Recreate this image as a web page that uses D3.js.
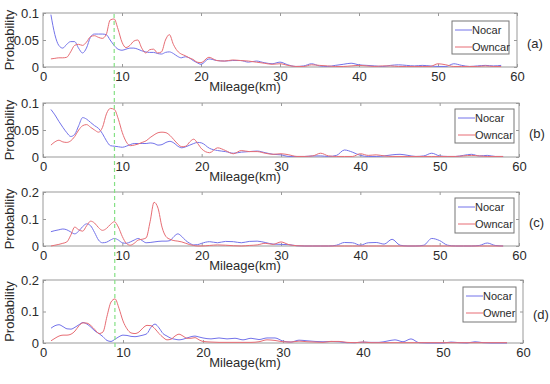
<!DOCTYPE html>
<html>
<head>
<meta charset="utf-8">
<script src="https://cdn.jsdelivr.net/npm/d3@7"></script>
<style>
  html, body { margin: 0; padding: 0; background: #fff; }
  svg { display: block; font-family: "Liberation Sans", Arial, sans-serif; }
</style>
</head>
<body>
<div id="chart"></div>
<script>
// mileage grid (km): half-km steps up to 20, then whole km
const mileage = [1, 1.5, 2, 2.5, 3, 3.5, 4, 4.5, 5, 5.5, 6, 6.5, 7, 7.5, 8, 8.5, 9, 9.5, 10,
  10.5, 11, 11.5, 12, 12.5, 13, 13.5, 14, 14.5, 15, 15.5, 16, 16.5, 17, 17.5, 18, 18.5, 19, 19.5, 20,
  21, 22, 23, 24, 25, 26, 27, 28, 29, 30, 31, 32, 33, 34, 35, 36, 37, 38, 39, 40,
  41, 42, 43, 44, 45, 46, 47, 48, 49, 50, 51, 52, 53, 54, 55, 56, 57, 58];

const nocarA = [0.097, 0.06, 0.04, 0.035, 0.042, 0.047, 0.047, 0.035, 0.026,
  0.035, 0.055, 0.061, 0.061, 0.061, 0.06, 0.05, 0.04, 0.033, 0.031,
  0.033, 0.035, 0.035, 0.033, 0.03, 0.028, 0.027, 0.027, 0.025, 0.024,
  0.027, 0.028, 0.025, 0.02, 0.017, 0.019, 0.017, 0.012, 0.008, 0.005,
  0.015, 0.012, 0.011, 0.012, 0.012, 0.009, 0.011, 0.008, 0.006, 0.009,
  0.004, 0.001, 0.002, 0.006, 0.002, 0.001, 0.003, 0.005, 0.007, 0.004,
  0.003, 0.002, 0.001, 0.003, 0.004, 0.003, 0.002, 0.003, 0.002, 0.001,
  0.001, 0.006, 0.003, 0.001, 0.002, 0.003, 0.002, 0.003];
const owncarA = [0.015, 0.016, 0.017, 0.017, 0.018, 0.028, 0.04, 0.042, 0.04,
  0.046, 0.056, 0.058, 0.055, 0.053, 0.06, 0.087, 0.089, 0.07, 0.046,
  0.036, 0.04, 0.048, 0.05, 0.035, 0.026, 0.032, 0.033, 0.026, 0.028,
  0.05, 0.06, 0.042, 0.03, 0.024, 0.021, 0.017, 0.014, 0.009, 0.008,
  0.018, 0.012, 0.011, 0.013, 0.012, 0.011, 0.009, 0.007, 0.005, 0.006,
  0.003, 0.001, 0.001, 0.004, 0.003, 0.002, 0.001, 0.001, 0.002, 0.003,
  0.002, 0.001, 0.002, 0.002, 0.001, 0.001, 0.001, 0.001, 0.001, 0.006,
  0.004, 0.001, 0.001, 0.001, 0.001, 0.002, 0.001, 0.001];

const nocarB = [0.088, 0.078, 0.066, 0.055, 0.045, 0.038, 0.042, 0.058, 0.073,
  0.07, 0.064, 0.058, 0.053, 0.043, 0.03, 0.021, 0.02, 0.019, 0.018,
  0.02, 0.023, 0.025, 0.025, 0.025, 0.025, 0.026, 0.025, 0.022, 0.023,
  0.027, 0.029, 0.026, 0.02, 0.017, 0.019, 0.022, 0.025, 0.027, 0.026,
  0.016, 0.012, 0.01, 0.007, 0.009, 0.01, 0.011, 0.008, 0.005, 0.004,
  0.001, 0.001, 0.001, 0.002, 0.002, 0.001, 0.003, 0.013, 0.009, 0.003,
  0.001, 0.001, 0.002, 0.004, 0.005, 0.003, 0.001, 0.002, 0.007, 0.002,
  0.001, 0.001, 0.003, 0.005, 0.002, 0.003, 0.001, 0.001];
const owncarB = [0.022, 0.028, 0.031, 0.028, 0.027, 0.03, 0.038, 0.05, 0.058,
  0.06, 0.055, 0.05, 0.046, 0.055, 0.08, 0.09, 0.088, 0.07, 0.045,
  0.028, 0.021, 0.022, 0.024, 0.027, 0.03, 0.036, 0.041, 0.045, 0.046,
  0.045, 0.04, 0.032, 0.024, 0.019, 0.02, 0.028, 0.033, 0.025, 0.015,
  0.008, 0.017, 0.012, 0.006, 0.012, 0.01, 0.01, 0.007, 0.005, 0.006,
  0.004, 0.001, 0.001, 0.002, 0.007, 0.002, 0.001, 0.001, 0.001, 0.006,
  0.003, 0.004, 0.002, 0.001, 0.001, 0.001, 0.001, 0.001, 0.001, 0.001,
  0.001, 0.001, 0.002, 0.003, 0.002, 0.001, 0.001, 0.001];

const nocarC = [0.053, 0.057, 0.06, 0.063, 0.06, 0.052, 0.045, 0.055, 0.072,
  0.082, 0.075, 0.05, 0.022, 0.012, 0.014, 0.022, 0.028, 0.022, 0.012,
  0.01, 0.015, 0.022, 0.028, 0.02, 0.012, 0.013, 0.015, 0.017, 0.018,
  0.018, 0.02, 0.035, 0.045, 0.035, 0.02, 0.01, 0.004, 0.005, 0.01,
  0.016, 0.012, 0.017, 0.016, 0.012, 0.017, 0.018, 0.013, 0.007, 0.006,
  0.005, 0.001, 0, 0, 0, 0, 0.003, 0.013, 0.012, 0.003,
  0.012, 0.013, 0.007, 0.025, 0.003, 0, 0, 0.003, 0.028, 0.02,
  0.003, 0, 0, 0, 0.002, 0.011, 0.002, 0];
const owncarC = [0, 0.003, 0.006, 0.01, 0.015, 0.04, 0.07, 0.06, 0.055,
  0.075, 0.092, 0.085, 0.068, 0.058, 0.065, 0.08, 0.09, 0.07, 0.035,
  0.01, 0.003, 0.01, 0.022, 0.025, 0.03, 0.09, 0.162, 0.14, 0.07,
  0.035, 0.025, 0.02, 0.018, 0.015, 0.01, 0.005, 0.002, 0, 0,
  0.002, 0.004, 0.003, 0.001, 0, 0.002, 0.004, 0.01, 0.006, 0.015,
  0.005, 0.001, 0, 0, 0, 0, 0, 0, 0, 0,
  0, 0, 0, 0, 0, 0, 0, 0, 0, 0,
  0, 0, 0, 0, 0, 0, 0, 0];

const nocarD = [0.047, 0.055, 0.058, 0.052, 0.045, 0.044, 0.05, 0.058, 0.065,
  0.06, 0.05, 0.038, 0.03, 0.02, 0.008, 0.005, 0.012, 0.02, 0.025,
  0.024, 0.021, 0.02, 0.022, 0.025, 0.03, 0.05, 0.06, 0.048, 0.03,
  0.022, 0.015, 0.012, 0.01, 0.012, 0.016, 0.02, 0.022, 0.019, 0.016,
  0.013, 0.016, 0.013, 0.015, 0.01, 0.015, 0.011, 0.016, 0.016, 0.006,
  0.003, 0.009, 0.007, 0.005, 0.004, 0.005, 0.004, 0.001, 0.001, 0.003,
  0.002, 0.002, 0.006, 0.01, 0.004, 0.013, 0.001, 0, 0, 0,
  0.003, 0.001, 0, 0.004, 0.001, 0, 0, 0];
const ownerD = [0.007, 0.015, 0.022, 0.025, 0.025, 0.028, 0.038, 0.055, 0.064,
  0.063, 0.055, 0.042, 0.03, 0.035, 0.085, 0.13, 0.14, 0.11, 0.07,
  0.045, 0.032, 0.03, 0.035, 0.048, 0.056, 0.055, 0.045, 0.03, 0.018,
  0.01, 0.012, 0.022, 0.028, 0.022, 0.015, 0.015, 0.017, 0.01, 0.005,
  0.003, 0.002, 0.002, 0.002, 0.002, 0.002, 0.004, 0.01, 0.008, 0.004,
  0.003, 0.006, 0.004, 0.003, 0.002, 0.005, 0.005, 0.002, 0.001, 0.003,
  0.001, 0.001, 0.001, 0.001, 0.001, 0.001, 0.001, 0.001, 0.001, 0.001,
  0.001, 0.001, 0.001, 0.001, 0.001, 0.001, 0.001, 0.001];

const xTicks = [0, 10, 20, 30, 40, 50, 60];
const yTicksSmall = [0, 0.05, 0.1];
const yTicksLarge = [0, 0.1, 0.2];
const splitKm = 9;

const panels = [
  {tag: "(a)", blue: nocarA, red: owncarA, names: ["Nocar", "Owncar"], yMax: 0.1, yTicks: yTicksSmall,
   left: 43, right: 517, top: 13, bottom: 67, legend: [452, 21, 57, 33]},
  {tag: "(b)", blue: nocarB, red: owncarB, names: ["Nocar", "Owncar"], yMax: 0.1, yTicks: yTicksSmall,
   left: 43, right: 519, top: 103, bottom: 157, legend: [455, 109, 59, 34]},
  {tag: "(c)", blue: nocarC, red: owncarC, names: ["Nocar", "Owncar"], yMax: 0.2, yTicks: yTicksLarge,
   left: 43, right: 519, top: 192, bottom: 246, legend: [455, 198, 59, 35]},
  {tag: "(d)", blue: nocarD, red: ownerD, names: ["Nocar", "Owner"], yMax: 0.2, yTicks: yTicksLarge,
   left: 43, right: 523, top: 280, bottom: 343, legend: [463, 287, 53, 35]}
];

const blue = "#7373ea", red = "#e76d74", boxColor = "#999", textColor = "#2b2b2b";

const svg = d3.select("#chart").append("svg")
  .attr("width", 550).attr("height", 384);

const scales = [];

panels.forEach(p => {
  const x = d3.scaleLinear().domain([0, 60]).range([p.left, p.right]);
  const y = d3.scaleLinear().domain([0, p.yMax]).range([p.bottom, p.top]);
  scales.push(x);
  const g = svg.append("g");
  const fmt = d => d === 0 ? "0" : String(d);

  // axes on all four sides, ticks pointing inward
  g.append("g").attr("transform", `translate(0,${p.bottom})`)
    .call(d3.axisBottom(x).tickValues(xTicks).tickFormat(fmt).tickSizeInner(-3).tickSizeOuter(0).tickPadding(5));
  g.append("g").attr("transform", `translate(0,${p.top})`)
    .call(d3.axisTop(x).tickValues(xTicks).tickFormat("").tickSizeInner(-3).tickSizeOuter(0));
  g.append("g").attr("transform", `translate(${p.left},0)`)
    .call(d3.axisLeft(y).tickValues(p.yTicks).tickFormat(fmt).tickSizeInner(-3).tickSizeOuter(0).tickPadding(4));
  g.append("g").attr("transform", `translate(${p.right},0)`)
    .call(d3.axisRight(y).tickValues(p.yTicks).tickFormat("").tickSizeInner(-3).tickSizeOuter(0));

  g.selectAll(".domain").remove();
  g.selectAll(".tick line").attr("stroke", boxColor);
  g.selectAll(".tick text").attr("fill", textColor).style("font-size", "13px")
    .style("font-family", "'Liberation Sans', Arial, sans-serif");

  g.append("rect")
    .attr("x", p.left).attr("y", p.top)
    .attr("width", p.right - p.left).attr("height", p.bottom - p.top)
    .attr("fill", "none").attr("stroke", boxColor).attr("stroke-width", 1);

  const line = d3.line()
    .x((d, i) => x(mileage[i]))
    .y(d => y(d))
    .curve(d3.curveMonotoneX);

  g.append("path").datum(p.blue).attr("d", line)
    .attr("fill", "none").attr("stroke", blue).attr("stroke-width", 1);
  g.append("path").datum(p.red).attr("d", line)
    .attr("fill", "none").attr("stroke", red).attr("stroke-width", 1);

  // legend
  const [lx, ly, lw, lh] = p.legend;
  const lg = g.append("g");
  lg.append("rect").attr("x", lx).attr("y", ly).attr("width", lw).attr("height", lh)
    .attr("fill", "#fff").attr("stroke", "#777").attr("stroke-width", 1);
  [blue, red].forEach((c, k) => {
    const ry = ly + 9 + k * 17;
    lg.append("line").attr("x1", lx + 3).attr("x2", lx + 20).attr("y1", ry).attr("y2", ry)
      .attr("stroke", c).attr("stroke-width", 1);
    lg.append("text").attr("x", lx + 20).attr("y", ry).attr("dy", "0.35em")
      .attr("fill", textColor).style("font-size", "11px").text(p.names[k]);
  });

  // panel tag
  g.append("text").attr("x", p.right + 10).attr("y", (p.top + p.bottom) / 2 + 3)
    .attr("dy", "0.35em").attr("fill", textColor).style("font-size", "13px").text(p.tag);

  // axis titles
  g.append("text").attr("x", 245).attr("y", p.bottom + 24)
    .attr("text-anchor", "middle").attr("fill", textColor).style("font-size", "13px")
    .text("Mileage(km)");
  g.append("text")
    .attr("transform", `translate(14,${(p.top + p.bottom) / 2}) rotate(-90)`)
    .attr("text-anchor", "middle").attr("fill", textColor).style("font-size", "13px")
    .text("Probability");
});

// green dashed reference line through all panels
svg.append("line")
  .attr("x1", scales[0](splitKm)).attr("x2", scales[3](splitKm))
  .attr("y1", 14).attr("y2", 348)
  .attr("stroke", "#85e085").attr("stroke-width", 1.2)
  .attr("stroke-dasharray", "4,3");
</script>
</body>
</html>
